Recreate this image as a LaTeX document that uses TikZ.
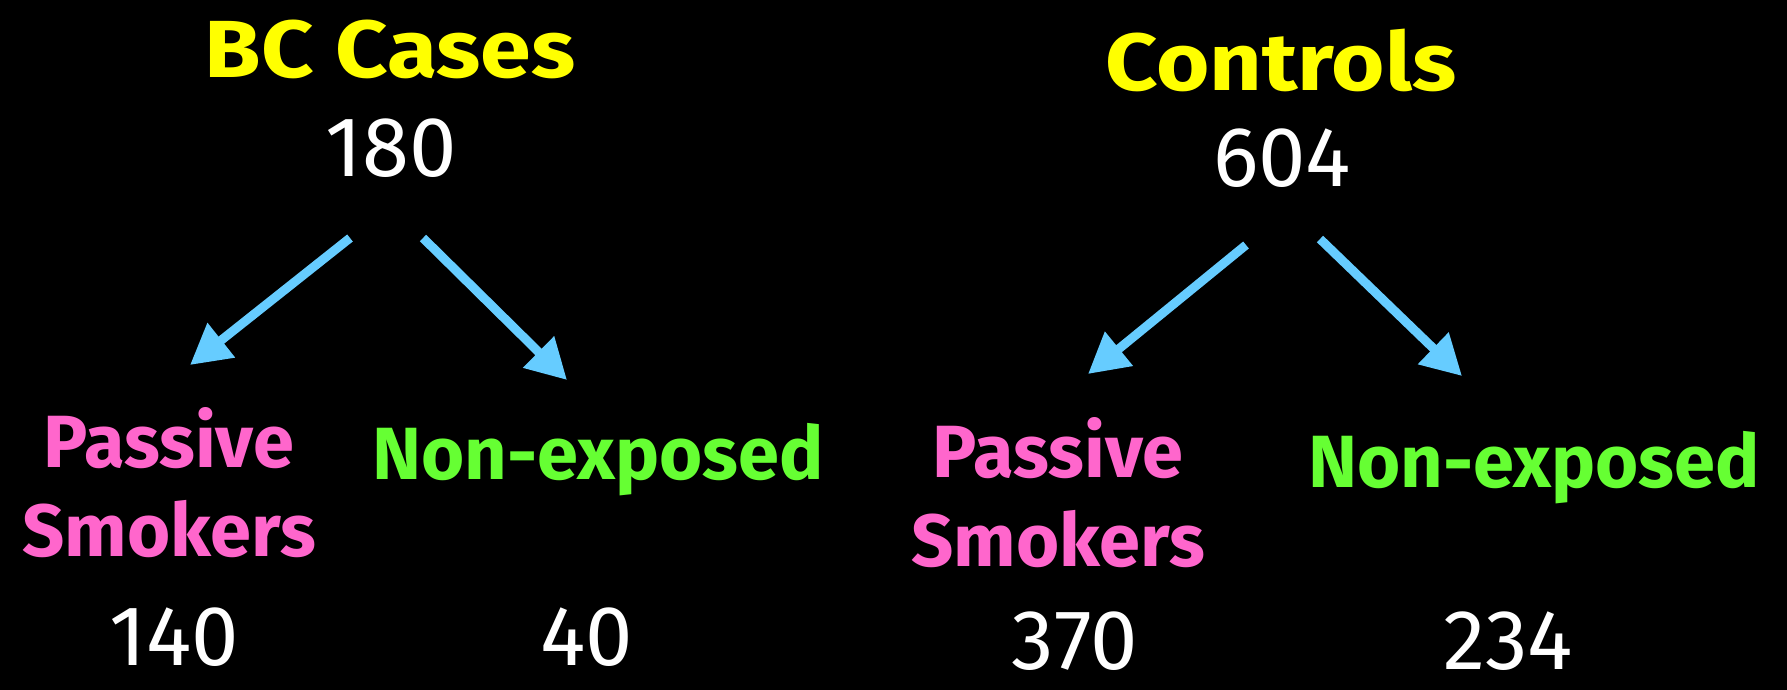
\documentclass[tikz,border=0pt]{standalone}
\usepackage{fontspec}
\setmainfont{Fira Sans}
\newfontfamily\headfont{Fira Sans}[FakeStretch=1.13]
\usetikzlibrary{arrows.meta}
\definecolor{hdyellow}{HTML}{FFFF00}
\definecolor{pspink}{HTML}{FF66CC}
\definecolor{negreen}{HTML}{66FF33}
\definecolor{arblue}{HTML}{66CCFF}
\tikzset{
  head/.style={text=hdyellow, font=\headfont\bfseries\fontsize{81}{89}\selectfont, anchor=base, inner sep=0pt},
  count/.style={text=white, font=\fontsize{85}{90}\selectfont, anchor=base, inner sep=0pt},
  smoke/.style={text=pspink, font=\bfseries\fontsize{74}{89}\selectfont, align=center, anchor=base, inner sep=0pt},
  nonexp/.style={text=negreen, font=\bfseries\fontsize{74}{89}\selectfont, anchor=base, inner sep=0pt},
  split/.style={draw=arblue, line width=9pt, -{Triangle[length=40pt,width=42pt]}}
}
\begin{document}
\begin{tikzpicture}[x=1pt,y=-1pt]
  \fill[black] (0,0) rectangle (1787,690);
  % case group
  \node[head] (bc) at (390,78) {BC Cases};
  \node[count] (n180) at (391,176) {180};
  \node[smoke] (ps1) at (169,556) {Passive\\Smokers};
  \node[nonexp] (ne1) at (598,479) {Non-exposed};
  \node[count] (n140) at (174,665) {140};
  \node[count] (n40) at (587,665) {40};
  % control group
  \node[head] (ctl) at (1281,91) {Controls};
  \node[count] (n604) at (1282,186) {604};
  \node[smoke] (ps2) at (1058,566) {Passive\\Smokers};
  \node[nonexp] (ne2) at (1534,487) {Non-exposed};
  \node[count] (n370) at (1075,669) {370};
  \node[count] (n234) at (1508,669) {234};
  % arrow ends
  \coordinate (a1) at (350,238);  \coordinate (b1) at (190,365);
  \coordinate (a2) at (423,238);  \coordinate (b2) at (567,380);
  \coordinate (a3) at (1246,245); \coordinate (b3) at (1088,374);
  \coordinate (a4) at (1320,239); \coordinate (b4) at (1462,376);
  \foreach \from/\to in {a1/b1, a2/b2, a3/b3, a4/b4}
    \draw[split] (\from) -- (\to);
\end{tikzpicture}
\end{document}
